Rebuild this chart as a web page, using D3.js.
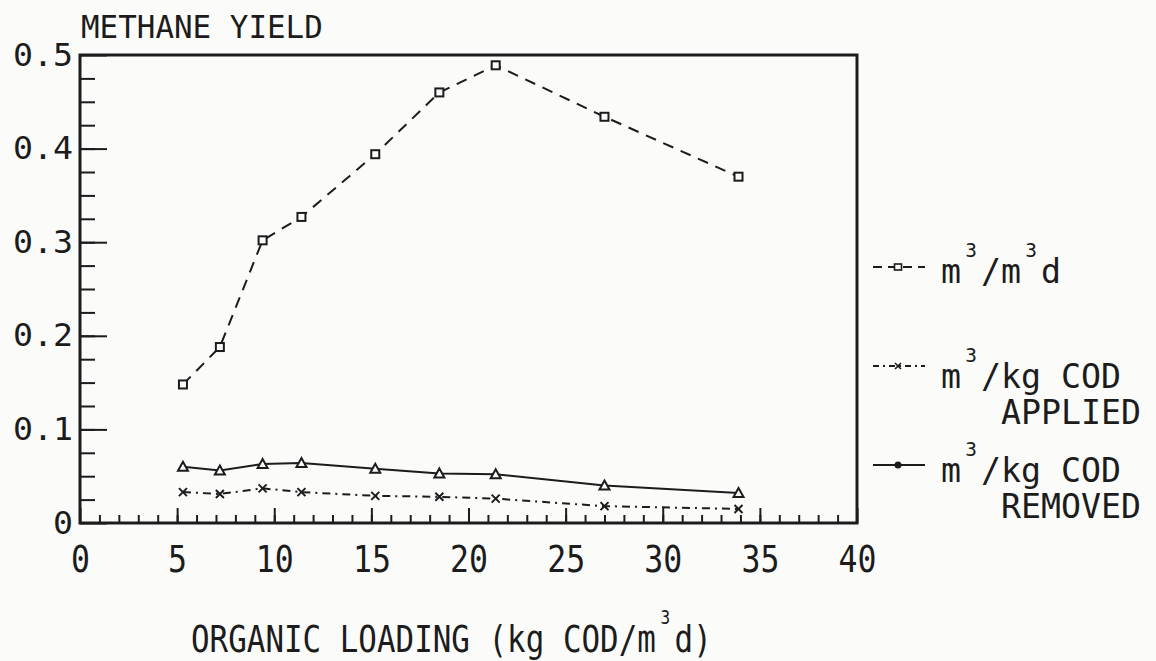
<!DOCTYPE html>
<html>
<head>
<meta charset="utf-8">
<script src="https://cdn.jsdelivr.net/npm/d3@7/dist/d3.min.js"></script>
<style>
  html, body { margin: 0; padding: 0; background: #fbfbfa; }
  svg { display: block; }
</style>
</head>
<body>
<svg id="chart" width="1156" height="661"></svg>
<script>
// ---------------- DATA ----------------
const organicLoading = [5.3, 7.2, 9.4, 11.4, 15.2, 18.5, 21.4, 27.0, 33.9];
const yieldPerVolume = [0.148, 0.188, 0.302, 0.327, 0.394, 0.460, 0.489, 0.434, 0.370];   // m3/m3 d
const yieldPerCODApplied = [0.033, 0.031, 0.037, 0.033, 0.029, 0.028, 0.026, 0.018, 0.015]; // m3/kg COD applied
const yieldPerCODRemoved = [0.060, 0.056, 0.063, 0.064, 0.058, 0.053, 0.052, 0.040, 0.032]; // m3/kg COD removed
const xTickValues = [0, 5, 10, 15, 20, 25, 30, 35, 40];
const xTickLabels = ["0", "5", "10", "15", "20", "25", "30", "35", "40"];
const yTickValues = [0, 0.1, 0.2, 0.3, 0.4, 0.5];
const yTickLabels = ["0", "0.1", "0.2", "0.3", "0.4", "0.5"];
const yAxisTitle = "METHANE YIELD";
// "^" marks a superscript 3 placed in the following space cell
const xAxisTitle = "ORGANIC LOADING (kg COD/m^d)";
const legendRows = [
  { line1: "m^/m^d", line2: null },
  { line1: "m^/kg COD", line2: "APPLIED" },
  { line1: "m^/kg COD", line2: "REMOVED" }
];

// ---------------- LAYOUT ----------------
const FONT = "DejaVu Sans Mono";
const INK = "#1c1c1c";
const BG = "#fbfbfa";
const svg = d3.select("#chart");
svg.append("rect").attr("width", 1156).attr("height", 661).attr("fill", BG);

const x = d3.scaleLinear().domain([0, 40]).range([80, 857]);
const y = d3.scaleLinear().domain([0, 0.5]).range([523, 55]);

function mono(g, px, py, str, cap, adv, anchor) {
  const fs = cap / 0.729;
  const sx = adv / (0.602 * fs);
  return g.append("text")
    .attr("transform", `translate(${px},${py}) scale(${sx},1)`)
    .attr("font-family", FONT)
    .attr("font-size", fs)
    .attr("fill", INK)
    .attr("text-anchor", anchor || "start")
    .text(str);
}

// monospace text where "^" becomes a raised small "3" occupying one cell;
// optional second line starting at a given cell, lineGap px below
function monoSup(g, px, py, str, cap, adv, supCap, supRise, line2, line2Cell, lineGap) {
  const fs = cap / 0.729;
  const natAdv = 0.602 * fs;
  const sx = adv / natAdv;
  const fsS = supCap / 0.729;
  const t = g.append("text")
    .attr("transform", `translate(${px},${py}) scale(${sx},1)`)
    .attr("font-family", FONT)
    .attr("font-size", fs)
    .attr("fill", INK);
  let i = 0;
  let run = "", runStart = 0;
  const flush = () => {
    if (run.length) {
      t.append("tspan").attr("x", runStart * natAdv).attr("y", 0).text(run);
      run = "";
    }
  };
  for (const ch of str) {
    if (ch === "^") {
      flush();
      const cx = i * natAdv + natAdv / 2 - (0.602 * fsS) / 2;
      t.append("tspan").attr("x", cx).attr("y", -supRise)
        .attr("font-size", fsS).text("3");
      i += 1;
      runStart = i;
    } else {
      if (!run.length) runStart = i;
      run += ch;
      i += 1;
    }
  }
  flush();
  if (line2) {
    t.append("tspan").attr("x", line2Cell * natAdv).attr("y", lineGap).text(line2);
  }
  return t;
}

// ---------------- AXES ----------------
svg.append("g").attr("transform", `translate(0,${y(0)})`)
  .call(d3.axisBottom(x).tickValues(d3.range(1, 40)).tickSize(-8).tickFormat(""))
  .call(g => g.select(".domain").remove())
  .call(g => g.selectAll("line").attr("stroke", INK).attr("stroke-width", 2));
const xAxisG = svg.append("g").attr("transform", `translate(0,${y(0)})`)
  .call(d3.axisBottom(x).tickValues(xTickValues).tickSize(-15)
        .tickFormat((d, i) => xTickLabels[i]))
  .call(g => g.select(".domain").remove())
  .call(g => g.selectAll("line").attr("stroke", INK).attr("stroke-width", 2));
{
  const cap = 27, adv = 19, fs = cap / 0.729, sx = adv / (0.602 * fs);
  xAxisG.selectAll("text")
    .attr("y", 0).attr("dy", 0)
    .attr("transform", `translate(0,49) scale(${sx},1)`)
    .attr("font-family", FONT).attr("font-size", fs).attr("fill", INK)
    .attr("text-anchor", "middle");
}
svg.append("g").attr("transform", `translate(${x(0)},0)`)
  .call(d3.axisLeft(y).tickValues(d3.range(1, 20).map(i => i * 0.025)).tickSize(-15).tickFormat(""))
  .call(g => g.select(".domain").remove())
  .call(g => g.selectAll("line").attr("stroke", INK).attr("stroke-width", 2));
const yAxisG = svg.append("g").attr("transform", `translate(${x(0)},0)`)
  .call(d3.axisLeft(y).tickValues(yTickValues).tickSize(-27)
        .tickFormat((d, i) => yTickLabels[i]))
  .call(g => g.select(".domain").remove())
  .call(g => g.selectAll("line").attr("stroke", INK).attr("stroke-width", 2));
{
  const cap = 23, adv = 20, fs = cap / 0.729, sx = adv / (0.602 * fs);
  yAxisG.selectAll("text")
    .attr("x", 0).attr("dy", 0)
    .attr("transform", `translate(-7,10) scale(${sx},1)`)
    .attr("font-family", FONT).attr("font-size", fs).attr("fill", INK)
    .attr("text-anchor", "end");
}

// frame
svg.append("rect")
  .attr("x", x(0)).attr("y", y(0.5))
  .attr("width", x(40) - x(0)).attr("height", y(0) - y(0.5))
  .attr("fill", "none").attr("stroke", INK).attr("stroke-width", 3);

// titles
mono(svg, 81, 38, yAxisTitle, 23, 18.6, "start");
monoSup(svg, 191, 652, xAxisTitle, 27, 18.6, 14, 28);

// ---------------- SERIES ----------------
const line = d3.line().x(d => x(d[0])).y(d => y(d[1]));
const seriesDefs = [
  { values: yieldPerVolume, dash: "11,8", marker: "square" },
  { values: yieldPerCODApplied, dash: "8,5,2,5", marker: "cross" },
  { values: yieldPerCODRemoved, dash: null, marker: "triangle" }
];

function drawMarker(g, type, cx, cy) {
  if (type === "square") {
    g.append("rect").attr("x", cx - 4).attr("y", cy - 4).attr("width", 8).attr("height", 8)
      .attr("fill", BG).attr("stroke", INK).attr("stroke-width", 2);
  } else if (type === "cross") {
    g.append("path").attr("d", `M${cx-4},${cy-4}L${cx+4},${cy+4}M${cx-4},${cy+4}L${cx+4},${cy-4}`)
      .attr("stroke", INK).attr("stroke-width", 2).attr("fill", "none");
  } else if (type === "triangle") {
    g.append("path").attr("d", `M${cx},${cy-5}L${cx+5},${cy+4}L${cx-5},${cy+4}Z`)
      .attr("fill", BG).attr("stroke", INK).attr("stroke-width", 2);
  } else if (type === "dot") {
    g.append("circle").attr("cx", cx).attr("cy", cy).attr("r", 3.5).attr("fill", INK);
  } else if (type === "smallsquare") {
    g.append("rect").attr("x", cx - 3.5).attr("y", cy - 3).attr("width", 7).attr("height", 6)
      .attr("fill", BG).attr("stroke", INK).attr("stroke-width", 1.6);
  } else if (type === "smallcross") {
    g.append("path").attr("d", `M${cx-3},${cy-3}L${cx+3},${cy+3}M${cx-3},${cy+3}L${cx+3},${cy-3}`)
      .attr("stroke", INK).attr("stroke-width", 1.6).attr("fill", "none");
  }
}

seriesDefs.forEach(s => {
  const pts = organicLoading.map((v, i) => [v, s.values[i]]);
  const g = svg.append("g");
  g.append("path").attr("d", line(pts))
    .attr("fill", "none").attr("stroke", INK).attr("stroke-width", 2)
    .attr("stroke-dasharray", s.dash);
  pts.forEach(p => drawMarker(g, s.marker, x(p[0]), y(p[1])));
});

// ---------------- LEGEND ----------------
const legendY = [267, 366, 465];
const legendBase = [283, 388, 482];
const legendGap = [0, 36, 36];
const legendMarkers = ["smallsquare", "smallcross", "dot"];
const legendDash = ["9,6", "6,4,2,4", null];
legendRows.forEach((r, i) => {
  const g = svg.append("g");
  g.append("path").attr("d", `M873,${legendY[i]}L925,${legendY[i]}`)
    .attr("stroke", INK).attr("stroke-width", 2).attr("stroke-dasharray", legendDash[i]);
  drawMarker(g, legendMarkers[i], 898, legendY[i]);
  monoSup(g, 941, legendBase[i], r.line1, 24, 20, 14, 26, r.line2, 3, legendGap[i]);
});
</script>
</body>
</html>
